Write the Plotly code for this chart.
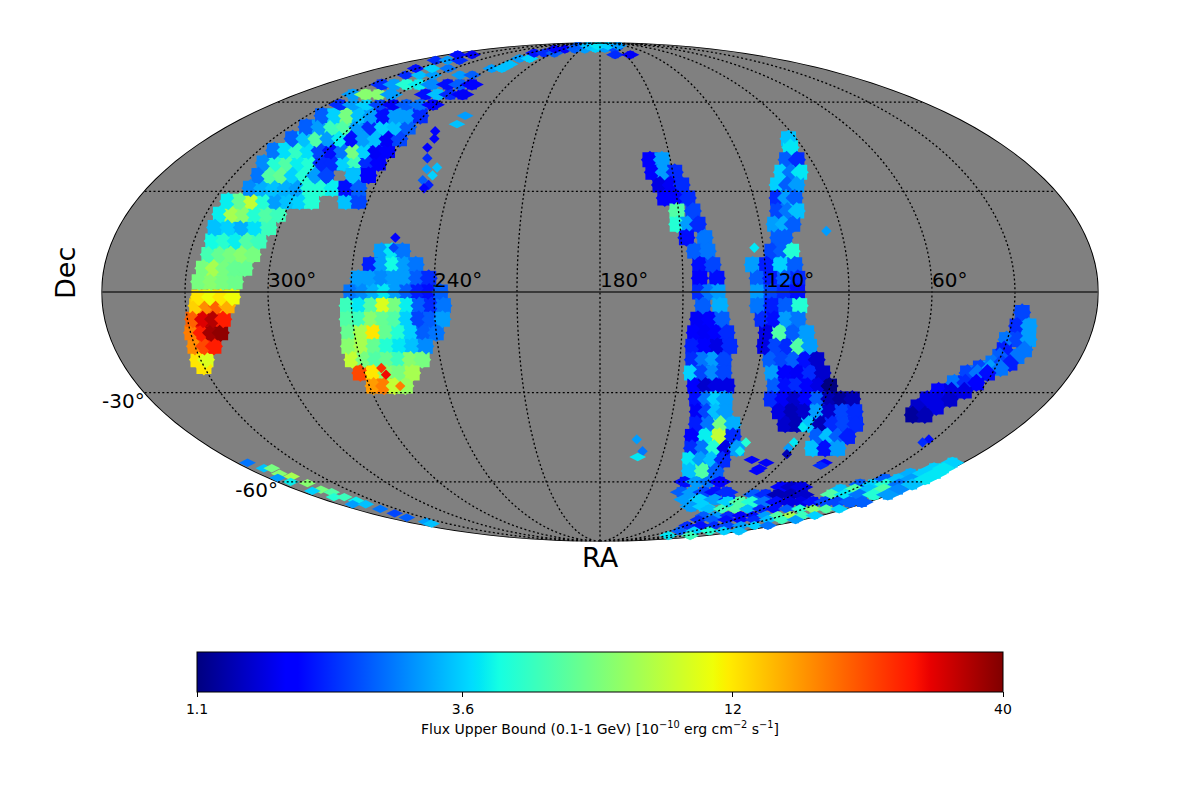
import numpy as np
import plotly.graph_objects as go

# ---- Data: rows of map cells, by Dec, first/last RA, flux per cell ----
# Left arc (main body)
arc_dec = [-22, -20, -16, -12, -8, -4, -1.5, 3, 7, 11, 15, 19, 23, 27, 31, 35, 39, 43, 47, 51, 55, 59, 63, 67, 71, 74, 78, 81]
arc_ra0 = [330, 331, 330, 329.5, 328, 326, 325, 325, 324, 323, 323, 324, 324.4, 324.3, 319, 319.5, 322, 323, 321, 321.6, 322, 322.5, 326.8, 322.8, 323, 331, 342, 349]
arc_ra1 = [330, 328, 323, 319, 317, 315, 313, 312, 309, 307, 306, 304, 302.4, 292, 286.4, 292, 273.7, 273.3, 272, 272.6, 272, 271.5, 304, 290, 302.7, 304.5, 318.6, 332]
arc_flux = [
    [12], [12, 10], [17, 22, 26], [18, 26, 36, 38], [20, 30, 34, 26], [13, 17, 20, 15], [12, 11, 12, 11],
    [6.5, 7, 6.5, 6.2], [6.5, 8, 6.5, 6, 6], [5.2, 6, 6.5, 7, 6.5], [4.2, 4.6, 4, 5.5, 5], [3.4, 3.6, 3.2, 3.8, 5],
    [4, 8, 7, 4.5, 5.5, 5], [4, 6, 9, 4.5, 3, 3.4, 3.6, 4.5], [2.8, 3.2, 3.4, 3.2, 3, 4.5, 4.5, 4],
    [2.6, 5.5, 6, 3.6, 4.5, 3, 2.2], [2.8, 4.5, 5.5, 4, 4.5, 2, 2, 3.6, 5, 2, 1.7],
    [2.6, 3.8, 4.8, 3.8, 2.2, 1.8, 2.6, 6.5, 3.6, 1.6, 1.7], [2.4, 3.4, 5.5, 3, 4, 1.8, 3, 3.4, 1.6, 2.2],
    [2.4, 3, 5, 5.5, 3, 2, 3.6, 3.4, 2.4], [2.4, 3.6, 6.5, 3.4, 3, 1.8, 3, 3, 2], [2, 3, 3.6, 2.2, 1.6, 2.4, 2.6, 1.7],
    [3, 7, 7, 3], [2, 3, 4.5, 4, 2.8], [2, 3.4, 3], [1.8, 3.6, 2.6], [2, 3, 2], [1.8, 1.6],
]
# Lobes of the arc and the strip that runs over the north pole
lobe_dec = [27, 31, 35, 63, 67, 71, 74, 76, 79, 82, 84.5, 85, 87, 81]
lobe_ra0 = [278.7, 281, 281, 283.6, 279.6, 283, 268.8, 261, 264, 264.5, 254, 188, 233.7, 162]
lobe_ra1 = [273.7, 276, 274.7, 261.7, 263.8, 274, 260.5, 254, 253.5, 238.5, 205, 155, 136, 144]
lobe_flux = [
    [3.4, 2.2], [1.8, 2.4], [3.4, 1.7], [1.8, 3.4, 2, 1.6], [1.8, 2.4, 1.7], [3, 2.4], [3, 3.4], [3.4], [3, 3.6],
    [1.8, 2, 2.4], [1.7, 1.7, 2.4, 3], [3.6, 3, 2.2], [2.4, 3.4, 3.9, 3.6, 3], [2, 1.6],
]
# Round blob near RA 255
blob_dec = [12, 8, 4, 0, -4, -8, -12, -16, -20, -24, -28]
blob_ra0 = [260, 263.5, 267.5, 270, 271.4, 271.8, 272, 273, 273, 271.6, 268.4]
blob_ra1 = [252.4, 247, 242, 237.7, 236.7, 237.3, 240, 244.7, 246.8, 251.8, 256]
blob_flux = [
    [3, 3.9, 2.6], [1.9, 3, 4.2, 3, 2.6], [3, 3, 2.8, 3, 3, 2.4, 2], [2.6, 2.8, 3.2, 3.9, 3, 2.4, 1.9, 1.8, 2.4],
    [5, 3.9, 5.5, 10, 6.5, 4, 2.4, 2, 2.6], [5.5, 5, 7, 6, 5.5, 3.6, 2.2, 2.4, 3], [6, 8, 12, 6, 4.5, 3.6, 2.4, 2.6],
    [7, 8, 6, 4.5, 3.9, 3.4, 2.8], [9, 6.5, 5.5, 6, 5, 7, 6.5], [22, 12, 7, 6.5, 8], [16, 18, 9, 7.5],
]
# Central band near RA 140
mid_dec = [40, 36, 32, 28, 24, 20, 16, 12, 8, 4, 0, -4, -8, -12, -16, -20, -24, -28, -32, -36, -40, -44, -48, -52, -56, -60, -64, -67, -70]
mid_ra0 = [158.7, 158.2, 156, 154.7, 150.6, 151, 148, 145.3, 143.7, 143.9, 144, 142.8, 144.4, 145.3, 145.6, 145.1, 145, 143, 141.3, 139.7, 138.7, 139, 137.3, 136, 133.3, 132.6, 130.4, 124.3, 115]
mid_ra1 = [153.6, 149.2, 147.3, 145.7, 144.5, 143.2, 141.2, 140.5, 139, 137.7, 137.4, 136.6, 135.7, 133.6, 132, 133.5, 132.7, 130.5, 130, 128.6, 123.4, 121, 116.6, 120, 119.8, 113.1, 103, 95, 106]
mid_flux = [
    [1.7, 3], [1.7, 3, 2], [1.5, 1.6, 2], [1.7, 1.7, 2], [5.5, 2.2], [4.5, 3, 2], [1.8, 2.6], [2.4, 2.6], [1.8, 2.2],
    [1.7, 1.8], [2, 2.6, 3], [2.4, 3.2], [1.6, 1.7, 2.4], [1.7, 1.6, 1.7, 2], [1.9, 1.7, 1.5, 2], [2, 2.6, 3, 2.2],
    [3.6, 2.2, 2.8, 2.2], [1.7, 1.4, 1.5, 1.5], [1.8, 2.6, 3.6, 3], [1.6, 2.2, 3.4, 3], [1.9, 2.6, 6.5, 3.2],
    [1.7, 4, 9, 2], [2, 2.6, 4.5, 1.5, 3], [3.9, 3, 3.4, 2], [3.4, 5.5, 2.4], [1.8, 3, 2.6, 1.7], [2.4, 3, 2.2, 1.8, 2],
    [3, 3.6, 3, 2], [3, 3.6],
]
# Band near RA 110
east_dec = [47, 44, 40, 36, 32, 28, 24, 20, 16, 12, 8, 4, 0, -4, -8, -12, -16, -20, -24, -28, -32, -36, -40, -44, -48]
east_ra0 = [93.5, 95.5, 100.4, 105, 108.9, 110.7, 112, 114.4, 114, 117, 124.5, 123, 123, 122.9, 121, 119, 119, 116, 114, 111.8, 111.3, 106, 101, 83.5, 81.2]
east_ra1 = [93.5, 95.5, 96, 97.7, 101.3, 104, 104.8, 107.6, 111.6, 109.8, 109.2, 108.4, 108.6, 107.7, 108, 104.3, 102.4, 98.6, 94.9, 90.4, 79, 75, 71, 70.2, 69.7]
east_flux = [
    [3.4], [3.9], [2.4, 2], [3.6, 2.6, 3.9], [3.6, 2.4, 3], [2, 3, 2.4], [2.2, 2.6, 3.4], [3, 3.2, 2.4], [2.4, 2.4],
    [2.2, 2.4, 4.5], [3, 1.9, 3.6, 2.4], [2.4, 1.9, 2.4, 2], [3, 2.2, 2, 1.8], [2.6, 1.9, 2.4, 4.5], [2, 1.8, 3, 2.6],
    [1.5, 5.5, 2.4, 3], [1.5, 2.2, 2, 5.5, 3], [2.4, 2.2, 2.4, 1.8, 1.4], [3, 1.7, 1.6, 2, 1.4],
    [2.4, 1.8, 2, 1.7, 1.5, 1.1], [2, 1.6, 1.4, 1.7, 2.4, 1.3, 1.2, 1.3], [1.5, 1.3, 1.4, 3, 1.4, 2.2, 2],
    [1.4, 1.3, 3.4, 1.3, 2, 2.2, 2], [2.4, 3.4, 2.4, 1.9], [3.4, 1.8, 3],
]
# Thin band at low RA
west_dec = [-6, -10, -14, -17, -19, -21, -22.5, -24, -27, -29.5, -32, -34.5, -37]
west_ra0 = [26.9, 27.8, 30.3, 29.8, 30.4, 31.8, 35.6, 39.5, 42.4, 46.6, 49, 50.4, 50]
west_ra1 = [26.9, 23.5, 22.2, 22.3, 24, 25.4, 28, 31.9, 33.9, 36.5, 40, 43, 45]
west_flux = [
    [2.2], [2, 3], [2.6, 2.2, 3], [1.9, 2.6], [2.4, 2.6], [2.6, 2.2, 1.9], [2.2, 3, 2.6], [2.2, 2.6, 1.8], [2.6, 2, 1.7],
    [1.7, 1.5, 1.5], [1.5, 1.5, 1.4], [1.4, 1.5], [1.2, 1.3],
]
# South polar strips
south_dec = [-53, -55, -57, -59, -61, -62, -63, -65, -65, -65, -68, -71, -74, -76, -79, -82, -85]
south_ra0 = [5, 9, 15.7, 23.8, 31.8, 74.4, 37, 84, 76.9, 36, 94, 100, 95, 92, 89, 78, 61]
south_ra1 = [5, 4, 2.4, 1.9, 2.2, 62.8, 3, 84, 53.8, 1, 4, 4, 4, 5.5, 5, 2, 22.5]
south_flux = [
    [3.6], [3.6, 3.9], [3.2, 3.6, 3.9], [2.4, 3.4, 3, 3.9], [2.4, 3.6, 4.5, 2.6, 3.4], [1.7, 1.4, 1.5],
    [3.4, 5.5, 3.4, 5.5, 2.8], [2.4], [2, 1.3, 1.3, 1.4], [5.5, 3.9, 2.6, 4.5, 3],
    [3.6, 5.5, 4.5, 2.6, 1.8, 1.5, 1.5, 1.8, 2.2, 2.2, 2.4, 2.4],
    [3.4, 5, 5.5, 3.4, 2, 1.8, 2.4, 4.5, 7, 5.5, 3.6], [2.4, 3, 2, 1.7, 1.8, 3, 5.5, 8, 5, 3.6],
    [2, 2.4, 1.8, 1.7, 2, 3.4, 5, 3], [2, 1.8, 2, 2.2, 3, 3.6, 2.6], [2.4, 3.6, 4.5, 3.6, 3.4], [3.9, 5],
]
# Small isolated cells
speck_ra = [249, 250, 258, 256, 256.6, 254, 248, 252, 248.5, 251.7, 248.6, 250, 255.8, 255.8, 263, 262, 258,
            105.7, 98.4, 97.5, 98.5, 68.5, 68.8, 163.5, 160, 161.8, 113.8, 114.2, 95.6, 92.7, 92, 92.6, 91, 32.5, 33.7,
            123.3,
            355, 352, 348, 349.6, 355, 346, 352.8, 345, 345.8, 352.8, 343, 349.6, 343, 341.7, 351, 342, 341.7, 342, 345, 342.8, 346]
speck_dec = [55, 52, 49.5, 47, 44, 40.5, 37.5, 37, 35, 33.5, 32, 31, 16, 13, -22.5, -24.5, -28,
             -52, -55, -53, -56, -53, -54, -45, -49, -51, -46, -49, 18, -41, -46, -48, -50, -45, -46,
             13,
             -53, -55, -55, -57, -58.5, -58, -60, -60.5, -63, -63.5, -64, -66, -66, -67.5, -69, -69, -71, -73, -75, -77, -78]
speck_flux = [3, 3.4, 1.7, 1.7, 1.7, 2, 3.4, 3, 3.6, 2.4, 1.9, 1.7, 1.7, 2.2, 24, 28, 18,
              1.7, 1.7, 1.6, 1.7, 1.7, 2, 3, 2.6, 3.9, 4.5, 4, 3, 3.9, 3.9, 3, 1.3, 1.8, 2,
              3.9,
              2.6, 3.4, 6.5, 7, 3, 8, 4, 7, 6.5, 3.6, 5.5, 4.5, 5, 4, 3, 3.4, 2.6, 2.2, 2.4, 3, 3.4]

cbar_ticks = [1.1, 3.6, 12, 40]
cbar_labels = ["1.1", "3.6", "12", "40"]
flux_min, flux_max = 1.1, 40
lon_ticks_ra = [300, 240, 180, 120, 60]
lat_ticks = [-30, -60]
grid_lons = [-150, -120, -90, -60, -30, 0, 30, 60, 90, 120, 150]
grid_lats = [-60, -30, 30, 60]


def jet_scale():
    # breakpoints of the classic "jet" map
    r = [(0, 0), (.35, 0), (.66, 1), (.89, 1), (1, .5)]
    g = [(0, 0), (.125, 0), (.375, 1), (.64, 1), (.91, 0), (1, 0)]
    b = [(0, .5), (.11, 1), (.34, 1), (.65, 0), (1, 0)]
    stops = sorted({p for ch in (r, g, b) for p, _ in ch})
    out = []
    for s in stops:
        rgb = [np.interp(s, *zip(*ch)) for ch in (r, g, b)]
        out.append([s, "rgb(%d,%d,%d)" % tuple(round(255 * v) for v in rgb)])
    return out


def expand(decs, ra0s, ra1s, fluxes):
    ra, dec, flux = [], [], []
    for d, r0, r1, f in zip(decs, ra0s, ra1s, fluxes):
        ra.extend(np.linspace(r0, r1, len(f)))
        dec.extend([d] * len(f))
        flux.extend(f)
    return np.array(ra), np.array(dec), np.array(flux)


fig = go.Figure()

# grey sky: one polygon over the whole sphere
E = 179.9
P = 89.9
up = list(np.arange(-P, P, 3.0))
across = list(np.arange(-E, E, 3.0))
sky_lon = [-E] * len(up) + across + [E] * len(up) + across[::-1] + [-E]
sky_lat = up + [P] * len(across) + up[::-1] + [-P] * len(across) + [-P]
fig.add_trace(go.Scattergeo(lon=sky_lon, lat=sky_lat, mode="lines", fill="toself", fillcolor="#808080",
                            line=dict(width=0, color="#808080"), hoverinfo="skip", showlegend=False))


def cells(ra, dec, flux, symbol, size):
    fig.add_trace(go.Scattergeo(
        lon=180 - ra, lat=dec, mode="markers", hoverinfo="skip", showlegend=False,
        marker=dict(symbol=symbol, size=size, color=np.log10(flux),
                    coloraxis="coloraxis", line=dict(width=0), opacity=1),
    ))


for rows, wide_from in [
    ((arc_dec, arc_ra0, arc_ra1, arc_flux), 56),
    ((lobe_dec, lobe_ra0, lobe_ra1, lobe_flux), 56),
    ((blob_dec, blob_ra0, blob_ra1, blob_flux), 56),
    ((mid_dec, mid_ra0, mid_ra1, mid_flux), 56),
    ((east_dec, east_ra0, east_ra1, east_flux), 56),
    ((west_dec, west_ra0, west_ra1, west_flux), 56),
    ((south_dec, south_ra0, south_ra1, south_flux), 50),
]:
    ra, dec, flux = expand(*rows)
    a = np.abs(dec)
    # under-layer of squares closes the gaps between the jagged diamonds
    cells(ra, dec, flux, "square", np.select([a > 70, a > wide_from], [7, 10], 15))
    cells(ra, dec, flux, np.where(a > wide_from, "diamond-wide", "diamond").tolist(),
          np.select([a > 70, a > wide_from], [13, 17], 14))

speck_a = np.abs(speck_dec)
cells(np.array(speck_ra), np.array(speck_dec), np.array(speck_flux),
      np.where(speck_a > 50, "diamond-wide", "diamond").tolist(), np.where(speck_a > 50, 12, 8))

# graticule drawn above the cells
glon, glat = [], []
for lo in grid_lons:
    lats = list(np.arange(-90, 90.1, 2.0))
    glon += [lo] * len(lats) + [None]
    glat += lats + [None]
for la in grid_lats:
    lons = list(np.arange(-179.9, 180, 4.0)) + [179.9]
    glon += lons + [None]
    glat += [la] * len(lons) + [None]
fig.add_trace(go.Scattergeo(lon=glon, lat=glat, mode="lines", hoverinfo="skip", showlegend=False,
                            line=dict(color="black", width=1.3, dash="2px,2.4px")))
eq_lon = list(np.arange(-179.9, 180, 4.0)) + [179.9]
fig.add_trace(go.Scattergeo(lon=eq_lon, lat=[0] * len(eq_lon), mode="lines", hoverinfo="skip", showlegend=False,
                            line=dict(color="#222222", width=1.6)))

# graticule labels
fig.add_trace(go.Scattergeo(
    lon=[180 - r for r in lon_ticks_ra], lat=[0] * len(lon_ticks_ra), mode="text", hoverinfo="skip", showlegend=False,
    text=["%d°" % r for r in lon_ticks_ra], textposition="top right",
    textfont=dict(size=20, color="black", family="DejaVu Sans"),
))
fig.add_trace(go.Scattergeo(
    lon=[-179.9] * len(lat_ticks), lat=lat_ticks, mode="text", hoverinfo="skip", showlegend=False,
    text=["%d°" % d for d in lat_ticks], textposition="bottom left",
    textfont=dict(size=20, color="black", family="DejaVu Sans"),
))

fig.update_layout(
    width=1200, height=800,
    margin=dict(l=0, r=0, t=0, b=0),
    paper_bgcolor="white",
    font=dict(family="DejaVu Sans", color="black", size=14),
    geo=dict(
        domain=dict(x=[93 / 1200, 1091 / 1200], y=[1 - 533 / 800, 1 - 35 / 800]),
        projection=dict(type="mollweide"),
        bgcolor="rgba(0,0,0,0)",
        showland=False, showcoastlines=False, showcountries=False, showlakes=False, showrivers=False,
        showocean=False, showsubunits=False,
        showframe=True, framecolor="black", framewidth=1.6,
        lonaxis=dict(showgrid=False), lataxis=dict(showgrid=False),
    ),
    coloraxis=dict(
        colorscale=jet_scale(), cmin=np.log10(flux_min), cmax=np.log10(flux_max),
        colorbar=dict(
            orientation="h", x=0.5 - 8 / 1200, xanchor="center", y=1 - 644 / 800, yanchor="top",
            lenmode="pixels", len=806, thicknessmode="pixels", thickness=40, xpad=0, ypad=0,
            tickmode="array", tickvals=list(np.log10(cbar_ticks)), ticktext=cbar_labels,
            ticks="outside", ticklen=5, tickwidth=1, tickcolor="black",
            outlinecolor="black", outlinewidth=1,
            tickfont=dict(size=14),
            title=dict(text="Flux Upper Bound (0.1-1 GeV) [10<sup>−10</sup> erg cm<sup>−2</sup> s<sup>−1</sup>]",
                       side="bottom", font=dict(size=14)),
        ),
    ),
    annotations=[
        dict(text="Dec", x=57 / 1200, y=1 - 265 / 800, xref="paper", yref="paper", showarrow=False,
             xanchor="center", yanchor="middle", textangle=-90, font=dict(size=27)),
        dict(text="RA", x=592 / 1200, y=1 - 549 / 800, xref="paper", yref="paper", showarrow=False,
             xanchor="center", yanchor="middle", font=dict(size=27)),
    ],
)

fig.write_html("out.html")
